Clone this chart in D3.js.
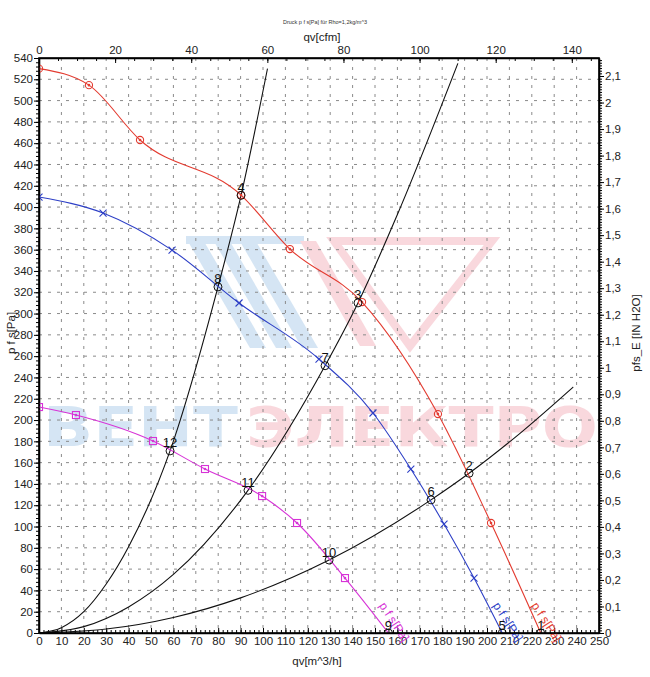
<!DOCTYPE html>
<html lang="de">
<head>
<meta charset="UTF-8">
<title>Druck p f s[Pa]</title>
<script src="https://d3js.org/d3.v7.min.js"></script>
<style>
    body { margin: 0; background: #fff; }
    svg { display: block; font-family: "Liberation Sans", Arial, sans-serif; }
</style>
</head>
<body>
<svg width="650" height="677"></svg>
<script>
    // fan curves, qv [m^3/h] / p f s [Pa] (last point = free blowing, no marker)
    const redQ = [0, 22.3, 45.1, 90.2, 112, 144.2, 178.1, 201.8, 224];
    const redP = [530, 514.5, 463, 411.3, 360.6, 310.8, 205.6, 103.3, 0];
    const blueQ = [0, 28.6, 59.4, 89.3, 125, 149.1, 166, 180.8, 194.2, 206.8];
    const blueP = [409.4, 394.4, 359.6, 309.9, 257.3, 206.6, 154, 102.3, 51.6, 0];
    const magQ = [0, 16.5, 50.9, 74.1, 99.6, 115.2, 136.6, 156];
    const magP = [212.2, 204.7, 180.3, 154, 128.6, 103.3, 51.6, 0];

    // system curves
    const sysAQ = [0, 10, 20, 30, 40, 58.5, 79.9, 90.2, 102];
    const sysAP = [0, 5, 20, 46, 81, 171, 325, 411, 530];
    const sysBQ = [0, 20, 40, 60, 93.3, 127.7, 142.4, 160, 187];
    const sysBP = [0, 6, 24.5, 55, 134, 251, 310, 393, 535];
    const sysCQ = [0, 30, 60, 90, 129.5, 175, 192, 215, 238.5];
    const sysCP = [0, 3.7, 14.6, 33, 68.5, 125, 150, 188, 231];

    // operating points
    const opLabel = ["1", "2", "3", "4", "5", "6", "7", "8", "9", "10", "11", "12"];
    const opQ = [224, 192, 142.4, 90.2, 206.8, 175, 127.7, 79.9, 156, 129.5, 93.3, 58.5];
    const opP = [0, 150, 310, 411, 0, 125, 251, 325, 0, 68.5, 134, 171];

    // ticks
    const paTicks = d3.range(0, 541, 20);
    const qvTicks = d3.range(0, 251, 10);
    const cfmTicks = [0, 20, 40, 60, 80, 100, 120, 140];
    const inTicks = d3.range(0, 22).map(i => i / 10);

    const M3H_PER_CFM = 1.69901, PA_PER_INH2O = 249.089;
    const L = 39, R = 599, T = 58, B = 633;

    const svg = d3.select("svg");
    const x = d3.scaleLinear().domain([0, 250]).range([L, R]);
    const y = d3.scaleLinear().domain([0, 540]).range([B, T]);
    const xc = d3.scaleLinear().domain([0, 250 / M3H_PER_CFM]).range([L, R]);
    const yi = d3.scaleLinear().domain([0, 540 / PA_PER_INH2O]).range([B, T]);

    // watermark
    const wm = svg.append("g").attr("opacity", 0.42);
    [0, 1, 2].forEach(i => {
        wm.append("polygon")
            .attr("points", [[186 + i * 26, 238], [202 + i * 26, 238], [266 + i * 26, 348], [250 + i * 26, 348]].join(" "))
            .attr("fill", "#9cc3e6");
    });
    wm.append("rect").attr("x", 186).attr("y", 236).attr("width", 118).attr("height", 8).attr("fill", "#9cc3e6");
    wm.append("polygon")
        .attr("points", "334,241 492,241 410,346")
        .attr("fill", "none").attr("stroke", "#f2a3b0").attr("stroke-width", 8);
    wm.append("polygon")
        .attr("points", "300,241 316,241 376,346 360,346")
        .attr("fill", "#f2a3b0");
    wm.append("text").attr("x", 43).attr("y", 446)
        .attr("font-family", "DejaVu Sans").attr("font-weight", "bold").attr("font-size", 56)
        .attr("textLength", 195).attr("lengthAdjust", "spacingAndGlyphs")
        .attr("fill", "#9cc3e6").text("ВЕНТ");
    wm.append("text").attr("x", 246).attr("y", 446)
        .attr("font-family", "DejaVu Sans").attr("font-weight", "bold").attr("font-size", 56)
        .attr("textLength", 352).attr("lengthAdjust", "spacingAndGlyphs")
        .attr("fill", "#f2a3b0").text("ЭЛЕКТРО");

    // grid
    const grid = svg.append("g").attr("stroke", "#8a8a8a").attr("stroke-dasharray", "3,6").attr("stroke-width", 1);
    grid.selectAll(".gx").data(qvTicks.slice(1, -1)).join("line")
        .attr("x1", d => x(d)).attr("x2", d => x(d)).attr("y1", T).attr("y2", B);
    grid.selectAll(".gy").data(paTicks.slice(1, -1)).join("line")
        .attr("y1", d => y(d)).attr("y2", d => y(d)).attr("x1", L).attr("x2", R);

    // axes
    function styleAxis(g) {
        g.attr("font-family", null).attr("font-size", 11.5);
        g.selectAll("text").attr("fill", "#222");
        g.selectAll("line").attr("stroke", "#000");
        g.select(".domain").attr("stroke", "#000").attr("stroke-width", 1.6);
    }
    function minor(g) {
        g.select(".domain").remove();
        g.selectAll("text").remove();
        g.selectAll("line").attr("stroke", "#000");
    }

    svg.append("g").attr("transform", `translate(${L},0)`)
        .call(d3.axisLeft(y).tickValues(d3.range(0, 541, 4)).tickSize(3).tickFormat("")).call(minor);
    svg.append("g").attr("transform", `translate(${L},0)`)
        .call(d3.axisLeft(y).tickValues(paTicks).tickSize(5).tickSizeOuter(0).tickPadding(1)).call(styleAxis);

    svg.append("g").attr("transform", `translate(0,${B})`)
        .call(d3.axisBottom(x).tickValues(d3.range(0, 251, 2)).tickSize(-3).tickFormat("")).call(minor);
    svg.append("g").attr("transform", `translate(0,${B})`)
        .call(d3.axisBottom(x).tickValues(qvTicks).tickSizeInner(-5).tickSizeOuter(0).tickPadding(4)).call(styleAxis);

    svg.append("g").attr("transform", `translate(0,${T})`)
        .call(d3.axisTop(xc).tickValues(d3.range(0, 147, 5)).tickSize(-3).tickFormat("")).call(minor);
    svg.append("g").attr("transform", `translate(0,${T})`)
        .call(d3.axisTop(xc).tickValues(cfmTicks).tickSizeInner(-5).tickSizeOuter(0).tickPadding(4)).call(styleAxis);

    svg.append("g").attr("transform", `translate(${R},0)`)
        .call(d3.axisRight(yi).tickValues(d3.range(0, 217).map(i => i / 100)).tickSize(3).tickFormat("")).call(minor);
    svg.append("g").attr("transform", `translate(${R},0)`)
        .call(d3.axisRight(yi).tickValues(inTicks).tickSize(5).tickSizeOuter(0).tickPadding(1)
            .tickFormat(d => Number.isInteger(d) ? String(d) : d3.format(".1f")(d).replace(".", ",")))
        .call(styleAxis);

    // axis titles
    svg.append("text").attr("x", 325).attr("y", 24).attr("text-anchor", "middle")
        .attr("font-size", 5.5).attr("fill", "#333").text("Druck p f s[Pa] für Rho=1,2kg/m^3");
    svg.append("text").attr("x", 322).attr("y", 41).attr("text-anchor", "middle")
        .attr("font-size", 11.5).attr("fill", "#222").text("qv[cfm]");
    svg.append("text").attr("x", 317).attr("y", 665).attr("text-anchor", "middle")
        .attr("font-size", 11.5).attr("fill", "#222").text("qv[m^3/h]");
    svg.append("text").attr("transform", "translate(15,333) rotate(-90)").attr("text-anchor", "middle")
        .attr("font-size", 11.5).attr("fill", "#222").text("p f s[Pa]");
    svg.append("text").attr("transform", "translate(640,333) rotate(-90)").attr("text-anchor", "middle")
        .attr("font-size", 11.5).attr("fill", "#222").text("pfs_E [IN H2O]");

    // plot clip
    svg.append("clipPath").attr("id", "plot").append("rect")
        .attr("x", L).attr("y", T).attr("width", R - L).attr("height", B - T);
    const plot = svg.append("g").attr("clip-path", "url(#plot)");

    const line = d3.line().x(d => x(d[0])).y(d => y(d[1])).curve(d3.curveMonotoneX);
    const zip = (a, b) => a.map((v, i) => [v, b[i]]);

    [[sysAQ, sysAP], [sysBQ, sysBP], [sysCQ, sysCP]].forEach(([q, p]) => {
        plot.append("path").attr("d", line(zip(q, p)))
            .attr("fill", "none").attr("stroke", "#111").attr("stroke-width", 1.1);
    });

    const fans = [
        { q: redQ, p: redP, color: "#e33b30", marker: "circle" },
        { q: blueQ, p: blueP, color: "#2d3fc6", marker: "cross" },
        { q: magQ, p: magP, color: "#d733d7", marker: "square" }
    ];

    fans.forEach(f => {
        const pts = zip(f.q, f.p);
        plot.append("path").attr("d", line(pts))
            .attr("fill", "none").attr("stroke", f.color).attr("stroke-width", 1.1);
        const mk = plot.append("g").attr("stroke", f.color).attr("fill", "none").attr("stroke-width", 1.1);
        pts.slice(0, -1).forEach(d => {
            const cx = x(d[0]), cy = y(d[1]);
            if (f.marker === "circle") {
                mk.append("circle").attr("cx", cx).attr("cy", cy).attr("r", 3.6);
                mk.append("circle").attr("cx", cx).attr("cy", cy).attr("r", 0.8).attr("fill", f.color);
            } else if (f.marker === "cross") {
                mk.append("path").attr("d", `M${cx - 3.5},${cy - 3.5}L${cx + 3.5},${cy + 3.5}M${cx - 3.5},${cy + 3.5}L${cx + 3.5},${cy - 3.5}`);
            } else {
                mk.append("rect").attr("x", cx - 3.5).attr("y", cy - 3.5).attr("width", 7).attr("height", 7);
                mk.append("circle").attr("cx", cx).attr("cy", cy).attr("r", 0.8).attr("fill", f.color);
            }
        });
        const end = pts[pts.length - 1];
        svg.append("text")
            .attr("transform", `translate(${x(end[0]) + 5},${y(10)}) rotate(57)`)
            .attr("text-anchor", "middle").attr("dominant-baseline", "middle")
            .attr("font-size", 12).attr("fill", f.color).text("p f s[Pa]");
    });

    // operating points
    opQ.forEach((q, i) => {
        plot.append("circle").attr("cx", x(q)).attr("cy", y(opP[i])).attr("r", 4)
            .attr("fill", "none").attr("stroke", "#111").attr("stroke-width", 1);
        svg.append("text").attr("x", x(q)).attr("y", y(opP[i]) - 3.5)
            .attr("text-anchor", "middle").attr("font-size", 13).attr("fill", "#111").text(opLabel[i]);
    });

    // frame
    svg.append("rect").attr("x", L).attr("y", T).attr("width", R - L).attr("height", B - T)
        .attr("fill", "none").attr("stroke", "#000").attr("stroke-width", 1.6);
</script>
</body>
</html>
